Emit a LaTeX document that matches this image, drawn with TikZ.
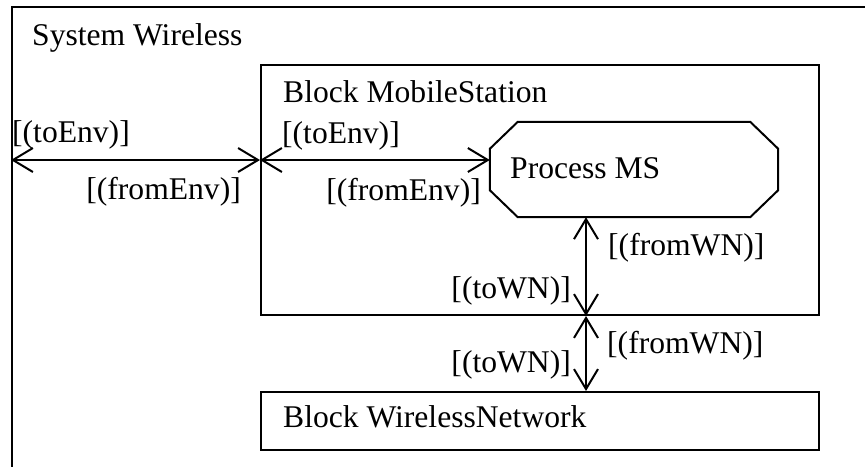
\documentclass[tikz,border=0pt]{standalone}
\usepackage{fontspec}
\setmainfont{Liberation Serif}
\usetikzlibrary{arrows.meta,calc}

\tikzset{
  frameline/.style={line width=2pt, draw=black},
  blockbox/.style={frameline, rectangle, inner sep=0pt, anchor=north west},
  procbox/.style={rectangle, inner sep=0pt, draw=none},
  lbl/.style={inner sep=0pt, font=\fontsize{31.6}{36}\selectfont},
  barb/.tip={Straight Barb[length=20pt, width=24pt, line width=2pt]},
  chan/.style={line width=2pt, barb-barb},
}

\begin{document}
\begin{tikzpicture}[x=1pt, y=-1pt]
  \useasboundingbox (0,0) rectangle (865,466);

  % system frame, running off the page at the right and at the bottom
  \begin{scope}
    \clip (0,0) rectangle (865,466);
    \node[blockbox, minimum width=900pt, minimum height=520pt] (sys) at (11,6) {};
  \end{scope}
  \node[lbl, anchor=base west] (sysname) at (32,45) {System Wireless};

  % block MobileStation
  \node[blockbox, minimum width=558pt, minimum height=250pt] (ms) at (260,64) {};
  \node[lbl, anchor=base west] (msname) at (283,102) {Block MobileStation};

  % block WirelessNetwork
  \node[blockbox, minimum width=558pt, minimum height=58pt] (wn) at (260,391) {};
  \node[lbl, anchor=base west] (wnname) at (283,427) {Block WirelessNetwork};

  % process MS (octagon drawn on the frame of an invisible box)
  \node[procbox, minimum width=288pt, minimum height=95pt] (proc) at (634,169.5) {};
  \draw[frameline, line join=miter]
    ($(proc.north west)+(28,0)$) -- ($(proc.north east)+(-28,0)$)
    -- ($(proc.north east)+(0,27)$) -- ($(proc.south east)+(0,-27)$)
    -- ($(proc.south east)+(-28,0)$) -- ($(proc.south west)+(28,0)$)
    -- ($(proc.south west)+(0,-27)$) -- ($(proc.north west)+(0,27)$)
    -- cycle;
  \node[lbl, anchor=base west] (procname) at (510,178) {Process MS};

  % channel end points
  \coordinate (envL) at (sys.west |- 0,160);
  \coordinate (msIn) at (ms.west |- envL);
  \coordinate (wnPort) at (586,0 |- ms.south);

  % channels
  \draw[chan] (envL) -- (msIn);
  \draw[chan] (msIn) -- (proc.west |- msIn);
  \draw[chan] (proc.south -| wnPort) -- (wnPort);
  \draw[chan] (wnPort) -- (wn.north -| wnPort);

  % signal lists
  \node[lbl, anchor=base west] (s1) at (12,142) {[(toEnv)]};
  \node[lbl, anchor=base east] (s2) at (241,199) {[(fromEnv)]};
  \node[lbl, anchor=base west] (s3) at (282,143) {[(toEnv)]};
  \node[lbl, anchor=base east] (s4) at (481,200) {[(fromEnv)]};
  \node[lbl, anchor=base west] (s5) at (608,255) {[(fromWN)]};
  \node[lbl, anchor=base east] (s6) at (571,298) {[(toWN)]};
  \node[lbl, anchor=base west] (s7) at (607,353) {[(fromWN)]};
  \node[lbl, anchor=base east] (s8) at (571,372) {[(toWN)]};
\end{tikzpicture}
\end{document}
